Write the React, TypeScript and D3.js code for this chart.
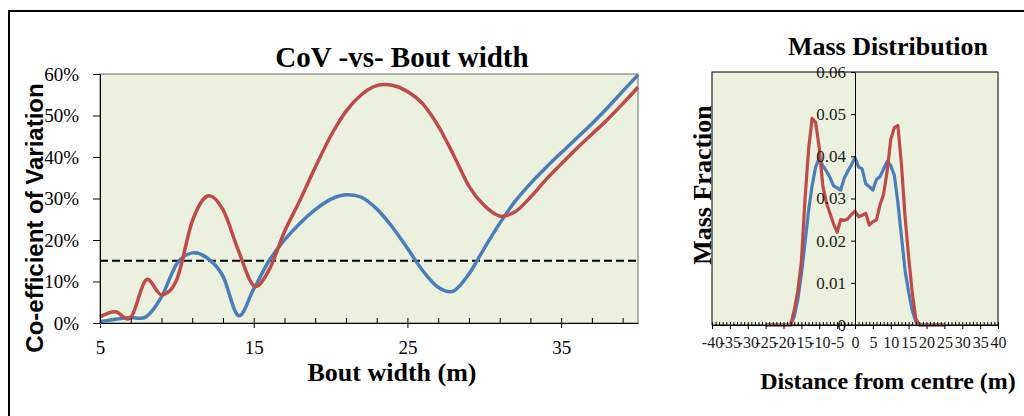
import React, { useEffect, useRef } from "react";
import * as d3 from "d3";

// CoV vs bout width (percent)
const boutWidths = [5, 6, 7, 8, 9, 10, 11, 12, 13, 14, 15, 16, 17, 18, 19, 20, 21, 22, 23, 24, 25, 26, 27, 28, 29, 30, 31, 32, 33, 34, 35, 36, 37, 38, 39, 40];
const covBlue = [0.3, 0.9, 1.3, 1.5, 6.3, 14.3, 16.9, 15.6, 11.3, 1.8, 8.2, 15.0, 20.0, 24.0, 27.3, 29.8, 30.9, 30.3, 27.5, 23.2, 18.0, 12.6, 8.6, 7.7, 11.8, 18.0, 24.0, 29.3, 33.6, 37.4, 41.0, 44.5, 48.0, 51.8, 55.8, 59.8];
const covRed = [1.5, 2.7, 1.3, 10.4, 6.8, 10.5, 24.5, 30.6, 27.3, 17.5, 9.0, 12.8, 22.0, 29.5, 37.5, 45.0, 51.0, 55.0, 57.2, 57.3, 55.8, 52.8, 47.5, 40.5, 33.0, 28.3, 25.8, 26.8, 30.3, 34.5, 38.3, 42.0, 45.5, 49.0, 52.8, 56.8];
const covLimit = 15;
const covTicks = [0, 10, 20, 30, 40, 50, 60];
const boutMajorTicks = [5, 15, 25, 35];
const boutMinorTicks = [5, 7, 9, 11, 13, 15, 17, 19, 21, 23, 25, 27, 29, 31, 33, 35, 37, 39];

// mass distribution
const distances = [-25, -24, -23, -22, -21, -20, -19, -18, -17, -16, -15, -14, -13, -12, -11, -10, -9, -8, -7, -6, -5, -4, -3, -2, -1, 0, 1, 2, 3, 4, 5, 6, 7, 8, 9, 10, 11, 12, 13, 14, 15, 16, 17, 18, 19, 20, 21, 22, 23, 24, 25];
const massBlue = [0, 0, 0, 0, 0, 0, 0, 0, 0.002, 0.006, 0.012, 0.0194, 0.027, 0.033, 0.0375, 0.0395, 0.0378, 0.0365, 0.035, 0.033, 0.0325, 0.032, 0.0348, 0.0365, 0.038, 0.0397, 0.0375, 0.037, 0.0335, 0.0328, 0.032, 0.0345, 0.0352, 0.037, 0.0388, 0.0378, 0.0355, 0.029, 0.021, 0.013, 0.0078, 0.0035, 0.0008, 0, 0, 0, 0, 0, 0, 0, 0];
const massRed = [0, 0, 0, 0, 0, 0, 0, 0, 0.0035, 0.008, 0.015, 0.0296, 0.0415, 0.049, 0.048, 0.042, 0.033, 0.029, 0.0265, 0.024, 0.022, 0.025, 0.0248, 0.0252, 0.0262, 0.027, 0.0257, 0.026, 0.0265, 0.0237, 0.0245, 0.0249, 0.0285, 0.031, 0.0365, 0.044, 0.0468, 0.0473, 0.038, 0.0257, 0.0162, 0.0078, 0.0015, 0, 0, 0, 0, 0, 0, 0, 0];
const massTicks = [0, 0.01, 0.02, 0.03, 0.04, 0.05, 0.06];
const distMajorTicks = [-40, -35, -30, -25, -20, -15, -10, -5, 0, 5, 10, 15, 20, 25, 30, 35, 40];
const distMinorTicks = [-40, -39, -38, -37, -36, -35, -34, -33, -32, -31, -30, -29, -28, -27, -26, -25, -24, -23, -22, -21, -20, -19, -18, -17, -16, -15, -14, -13, -12, -11, -10, -9, -8, -7, -6, -5, -4, -3, -2, -1, 0, 1, 2, 3, 4, 5, 6, 7, 8, 9, 10, 11, 12, 13, 14, 15, 16, 17, 18, 19, 20, 21, 22, 23, 24, 25, 26, 27, 28, 29, 30, 31, 32, 33, 34, 35, 36, 37, 38, 39, 40];

const BLUE = "#4A7EBB";
const RED = "#BE4B48";
const BG = "#EBF1DE";
const serif = '"Liberation Serif", "Times New Roman", serif';
const sans = '"Liberation Sans", Arial, sans-serif';

export default function App() {
  const ref = useRef<SVGSVGElement>(null);

  useEffect(() => {
    const svg = d3.select(ref.current);
    svg.selectAll("*").remove();

    // outer frame
    svg.append("rect")
      .attr("x", 9).attr("y", 11).attr("width", 1200).attr("height", 600)
      .attr("fill", "#fff").attr("stroke", "#000").attr("stroke-width", 2);

    // ---------- left chart ----------
    const x = d3.scaleLinear().domain([5, 40]).range([100, 638]);
    const y = d3.scaleLinear().domain([0, 60]).range([323, 74]);

    svg.append("rect")
      .attr("x", x(5)).attr("y", y(60))
      .attr("width", x(40) - x(5)).attr("height", y(0) - y(60))
      .attr("fill", BG).attr("stroke", "#6a6a6a");

    svg.append("line")
      .attr("x1", x(5)).attr("x2", x(40))
      .attr("y1", y(covLimit)).attr("y2", y(covLimit))
      .attr("stroke", "#000").attr("stroke-width", 2).attr("stroke-dasharray", "8,4");

    const covLine = d3.line<number>()
      .x((d, i) => x(boutWidths[i]))
      .y((d) => y(d))
      .curve(d3.curveCardinal.tension(0));

    svg.append("path").attr("d", covLine(covBlue))
      .attr("fill", "none").attr("stroke", BLUE).attr("stroke-width", 3.5);
    svg.append("path").attr("d", covLine(covRed))
      .attr("fill", "none").attr("stroke", RED).attr("stroke-width", 3.5);

    const yAx = svg.append("g").attr("transform", `translate(${x(5)},0)`)
      .call(d3.axisLeft(y).tickValues(covTicks).tickSize(7).tickSizeOuter(0).tickPadding(14).tickFormat((d) => `${d}%`));
    yAx.selectAll("text").attr("font-family", serif).attr("font-size", 19).attr("fill", "#000");

    const xMinor = svg.append("g").attr("transform", `translate(0,${y(0)})`)
      .call(d3.axisBottom(x).tickValues(boutMinorTicks).tickSize(-5).tickSizeOuter(0).tickFormat(() => ""));
    xMinor.select(".domain").remove();

    const xAx = svg.append("g").attr("transform", `translate(0,${y(0)})`)
      .call(d3.axisBottom(x).tickValues(boutMajorTicks).tickSize(5).tickSizeOuter(0).tickPadding(13).tickFormat((d) => `${d}`));
    xAx.selectAll("text").attr("font-family", serif).attr("font-size", 19).attr("fill", "#000");

    svg.append("text").text("CoV -vs- Bout width")
      .attr("x", 402).attr("y", 67).attr("text-anchor", "middle")
      .attr("font-family", serif).attr("font-weight", "bold").attr("font-size", 29);

    svg.append("text").text("Bout width (m)")
      .attr("x", 392).attr("y", 381).attr("text-anchor", "middle")
      .attr("font-family", serif).attr("font-weight", "bold").attr("font-size", 26);

    svg.append("text").text("Co-efficient of Variation")
      .attr("transform", "translate(43,218) rotate(-90)").attr("text-anchor", "middle")
      .attr("font-family", sans).attr("font-weight", "bold").attr("font-size", 24);

    // ---------- right chart ----------
    const xr = d3.scaleLinear().domain([-40, 40]).range([712, 998]);
    const yr = d3.scaleLinear().domain([0, 0.06]).range([325, 72]);

    svg.append("rect")
      .attr("x", xr(-40)).attr("y", yr(0.06))
      .attr("width", xr(40) - xr(-40)).attr("height", yr(0) - yr(0.06))
      .attr("fill", BG).attr("stroke", "#000");

    const massLine = d3.line<number>()
      .x((d, i) => xr(distances[i]))
      .y((d) => yr(d));

    svg.append("path").attr("d", massLine(massBlue))
      .attr("fill", "none").attr("stroke", BLUE).attr("stroke-width", 3.2).attr("stroke-linejoin", "round");
    svg.append("path").attr("d", massLine(massRed))
      .attr("fill", "none").attr("stroke", RED).attr("stroke-width", 3.2).attr("stroke-linejoin", "round");

    const yrAx = svg.append("g").attr("transform", `translate(${xr(0)},0)`)
      .call(d3.axisLeft(yr).tickValues(massTicks).tickSize(4).tickSizeOuter(0).tickPadding(5)
        .tickFormat((d) => (+d === 0 ? "0" : d3.format(".2f")(+d))));
    yrAx.selectAll("text").attr("font-family", serif).attr("font-size", 17).attr("fill", "#1a1a1a");

    const xrMinor = svg.append("g").attr("transform", `translate(0,${yr(0)})`)
      .call(d3.axisBottom(xr).tickValues(distMinorTicks).tickSize(-3).tickSizeOuter(0).tickFormat(() => ""));
    xrMinor.select(".domain").remove();

    const xrAx = svg.append("g").attr("transform", `translate(0,${yr(0)})`)
      .call(d3.axisBottom(xr).tickValues(distMajorTicks).tickSize(4).tickSizeOuter(0).tickPadding(7.5).tickFormat((d) => `${d}`));
    xrAx.selectAll("text").attr("font-family", serif).attr("font-size", 16).attr("fill", "#1a1a1a");

    svg.append("text").text("Mass Distribution")
      .attr("x", 888).attr("y", 55).attr("text-anchor", "middle")
      .attr("font-family", serif).attr("font-weight", "bold").attr("font-size", 26);

    svg.append("text").text("Distance from centre (m)")
      .attr("x", 888).attr("y", 389).attr("text-anchor", "middle")
      .attr("font-family", serif).attr("font-weight", "bold").attr("font-size", 24);

    svg.append("text").text("Mass Fraction")
      .attr("transform", "translate(711,185) rotate(-90)").attr("text-anchor", "middle")
      .attr("font-family", serif).attr("font-weight", "bold").attr("font-size", 26);
  }, []);

  return (
    <svg
      ref={ref}
      width={1024}
      height={416}
      style={{ position: "absolute", left: 0, top: 0, background: "#fff" }}
    />
  );
}
